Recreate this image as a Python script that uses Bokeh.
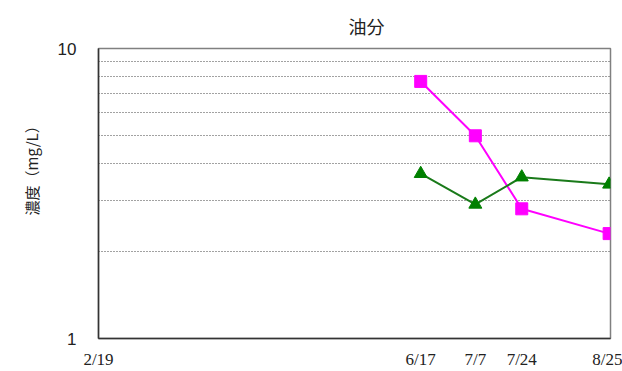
import pandas as pd
from bokeh.plotting import figure
from bokeh.models import FixedTicker, Range1d, PrintfTickFormatter, Title
from bokeh.embed import file_html
from bokeh.resources import INLINE

# data
dates = ["2/19", "6/17", "7/7", "7/24", "8/25"]
series_dates = ["6/17", "7/7", "7/24", "8/25"]
magenta_vals = [7.7, 5.0, 2.8, 2.3]
green_vals = [3.7, 2.9, 3.6, 3.4]
y_ticks = [1, 10]
grid_vals = [2, 3, 4, 5, 6, 7, 8, 9]

def doy(s):
    return pd.Timestamp("2021/" + s).dayofyear

tick_x = [doy(d) for d in dates]
sx = [doy(d) for d in series_dates]

p = figure(width=622, height=371, y_axis_type="log", output_backend="svg",
           toolbar_location=None,
           x_range=Range1d(doy("2/19"), doy("8/25") + 0.5),
           y_range=Range1d(1, 10),
           min_border_left=98, min_border_right=12, min_border_top=48, min_border_bottom=31)

p.title.text = "油分"
p.title.align = "left"
p.title.offset = 250
p.title.standoff = 20
p.title.text_font = "Noto Sans CJK JP"
p.title.text_font_size = "18px"
p.title.text_font_style = "normal"
p.title.text_color = "#222222"

p.outline_line_color = "#808080"
p.outline_line_width = 1.5

# x axis
p.xaxis.ticker = FixedTicker(ticks=tick_x)
p.xaxis.major_label_overrides = {int(x): d for x, d in zip(tick_x, dates)}
p.xaxis.major_label_text_font = "Liberation Serif"
p.xaxis.major_label_text_font_size = "17px"
p.xaxis.major_label_text_color = "#222222"
p.xaxis.major_tick_line_color = None
p.xaxis.minor_tick_line_color = None
p.xaxis.major_label_standoff = 5
p.xaxis.axis_line_color = "#333333"
p.xaxis.axis_line_width = 1.5

# y axis
p.yaxis.ticker = FixedTicker(ticks=y_ticks, minor_ticks=[])
p.yaxis.formatter = PrintfTickFormatter(format="%d")
p.yaxis.major_label_text_font = "Liberation Sans"
p.yaxis.major_label_text_font_size = "17px"
p.yaxis.major_label_text_color = "#222222"
p.yaxis.major_tick_line_color = None
p.yaxis.minor_tick_line_color = None
p.yaxis.major_label_standoff = 16
p.yaxis.axis_line_color = "#333333"
p.yaxis.axis_line_width = 1.5

ylab = Title(text="濃度（mg/L）", align="left", offset=123, standoff=25,
             text_font="Noto Sans CJK JP", text_font_size="15px",
             text_font_style="normal", text_color="#222222")
p.add_layout(ylab, "left")

p.xgrid.grid_line_color = None
p.ygrid.ticker = FixedTicker(ticks=grid_vals, minor_ticks=[])
p.ygrid.grid_line_color = "#444444"
p.ygrid.grid_line_dash = "1 2"
p.ygrid.grid_line_width = 1

p.line(sx, magenta_vals, line_color="#FF00FF", line_width=2)
p.scatter(sx, magenta_vals, marker="square", size=12, fill_color="#FF00FF", line_color="#FF00FF")
p.line(sx, green_vals, line_color="#1A7A1A", line_width=2)
p.scatter(sx, green_vals, marker="triangle", size=13, fill_color="#008000", line_color="#008000")

open("out.html", "w").write(file_html(p, INLINE))
